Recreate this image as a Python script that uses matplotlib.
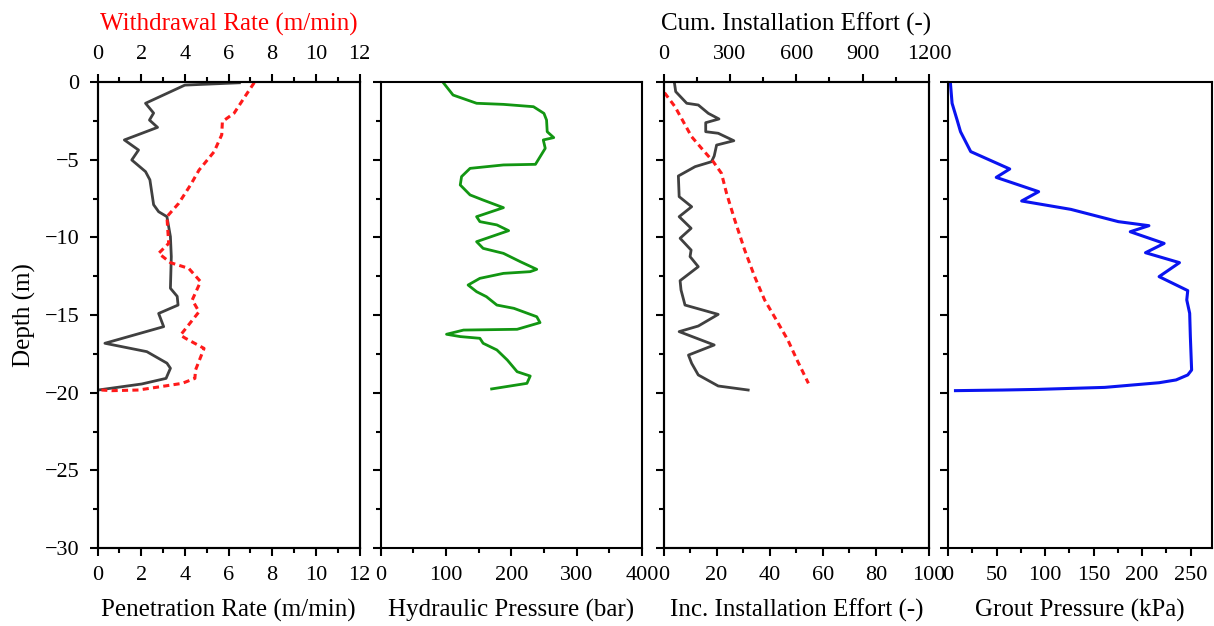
import numpy as np
import matplotlib
matplotlib.use("Agg")
import matplotlib.pyplot as plt
from matplotlib.ticker import MultipleLocator

plt.rcParams['font.family'] = ['Liberation Serif', 'DejaVu Serif']
plt.rcParams['font.size'] = 16
plt.rcParams['axes.labelsize'] = 18
plt.rcParams['axes.linewidth'] = 1.5

# penetration rate (m/min) vs depth (m)
pen_rate = [6.5, 4.0, 2.2, 2.57, 2.38, 2.75, 1.23, 1.88, 1.57, 2.2, 2.4, 2.57, 2.8, 3.18,
            3.34, 3.38, 3.34, 3.65, 3.69, 2.8, 3.03, 0.34, 2.26, 3.18, 3.34, 3.14, 2.03, 0.03]
pen_depth = [-0.05, -0.2, -1.37, -2.0, -2.45, -2.92, -3.73, -4.38, -5.02, -5.77, -6.3, -7.9, -8.35, -8.67,
             -9.96, -11.24, -13.28, -13.8, -14.36, -14.9, -15.75, -16.82, -17.36, -18.1, -18.43, -19.08, -19.44, -19.83]

# withdrawal rate (m/min) vs depth (m)
wd_rate = [7.18, 6.8, 6.26, 5.72, 5.69, 5.34, 4.65, 4.26, 3.72, 3.18, 3.26, 2.8, 3.34, 4.18,
           4.72, 4.34, 4.65, 3.8, 4.03, 4.88, 4.49, 4.46, 3.88, 1.88, 0.65, 0.18]
wd_depth = [-0.04, -0.84, -2.0, -2.55, -3.4, -4.49, -5.67, -6.63, -7.81, -8.67, -10.39, -11.03, -11.63, -12.0,
            -12.85, -14.03, -14.79, -16.3, -16.5, -17.15, -18.54, -19.08, -19.4, -19.83, -19.87, -19.83]

# hydraulic pressure (bar) vs depth (m)
hyd_p = [96, 111, 147, 188, 234, 250, 254, 255, 265, 249, 252, 237, 188, 137, 124, 122, 137, 157,
         188, 147, 152, 178, 196, 147, 157, 188, 214, 239, 229, 188, 152, 134, 147, 162, 178, 204,
         239, 244, 209, 127, 101, 122, 152, 157, 178, 194, 209, 229, 224, 170]
hyd_depth = [-0.04, -0.84, -1.37, -1.44, -1.59, -2.02, -2.45, -3.2, -3.58, -3.73, -4.27, -5.3, -5.34,
             -5.56, -6.09, -6.63, -7.27, -7.6, -8.09, -8.67, -8.99, -9.2, -9.57, -10.28, -10.71, -11.03,
             -11.57, -12.06, -12.21, -12.32, -12.64, -13.07, -13.5, -13.82, -14.36, -14.57, -15.11,
             -15.49, -15.92, -15.97, -16.24, -16.39, -16.5, -16.82, -17.25, -17.9, -18.65, -18.93,
             -19.4, -19.76]

# incremental installation effort (-) vs depth (m)
inc_eff = [4.1, 4.6, 8.75, 13.1, 16.9, 20.9, 15.9, 15.9, 20.6, 26.5, 20.0, 19.1, 18.1, 11.9, 5.6,
           5.9, 10.6, 5.9, 10.4, 6.25, 10.4, 10.0, 13.1, 6.25, 6.6, 8.1, 20.6, 13.1, 5.9, 19.1, 9.4,
           10.6, 13.1, 20.6, 31.9]
inc_depth = [-0.04, -0.62, -1.37, -1.48, -2.02, -2.38, -2.62, -3.2, -3.3, -3.78, -4.06, -4.76, -5.13,
             -5.45, -6.05, -7.38, -8.03, -8.67, -9.42, -10.06, -10.82, -11.24, -11.89, -12.79, -13.39,
             -14.36, -14.96, -15.71, -16.07, -16.93, -17.58, -18.11, -18.86, -19.57, -19.83]

# cumulative installation effort (-) vs depth (m)
cum_eff = [4.5, 52, 127, 172, 225, 262, 285, 322, 367, 412, 457, 510, 562, 607, 655]
cum_depth = [-0.69, -1.59, -3.52, -4.27, -5.13, -5.88, -7.17, -8.88, -10.82, -12.53, -14.03,
             -15.32, -16.61, -18.0, -19.4]

# grout pressure (kPa) vs depth (m)
grout_p = [2.4, 4.2, 9.4, 12.9, 23.4, 63.6, 49.7, 93.4, 75.9, 126.6, 175.5, 207, 187.8, 222.7,
           203.5, 238.5, 217.5, 247, 246, 249, 249.7, 251, 247, 235, 217.5, 161.5, 91.6, 56.6, 7.7]
grout_depth = [0, -1.37, -2.45, -3.2, -4.48, -5.6, -6.14, -7.06, -7.66, -8.2, -8.99, -9.25, -9.64,
               -10.39, -10.99, -11.63, -12.53, -13.43, -14.03, -14.89, -16.39, -18.54, -18.86,
               -19.18, -19.36, -19.66, -19.79, -19.83, -19.87]

W, H = 1214, 626
fig = plt.figure(figsize=(W / 100, H / 100), dpi=100)

def add_panel(x0, x1, y0=82, y1=548):
    return fig.add_axes([x0 / W, (H - y1) / H, (x1 - x0) / W, (y1 - y0) / H])

def style(ax, labels_left=False):
    ax.set_ylim(-30, 0)
    ax.yaxis.set_major_locator(MultipleLocator(5))
    ax.yaxis.set_minor_locator(MultipleLocator(2.5))
    ax.tick_params(axis='both', which='major', direction='out', length=6, width=1.5, pad=7)
    ax.tick_params(axis='both', which='minor', direction='out', length=3.5, width=1.5)
    ax.tick_params(axis='y', which='both', labelleft=labels_left)
    ax.tick_params(axis='x', which='both', top=False)

def style_top(ax):
    ax.tick_params(which='major', direction='out', length=6, width=1.5, pad=7)
    ax.tick_params(which='minor', direction='out', length=3.5, width=1.5)

grey = '#404040'
red = '#ff1a1a'
dash = (0, (2.0, 1.4))

# panel 1: penetration / withdrawal rate
ax1 = add_panel(97.5, 359.5)
style(ax1, labels_left=True)
ax1.plot(pen_rate, pen_depth, color=grey, lw=2.0)
ax1.set_xlim(0, 12)
ax1.xaxis.set_major_locator(MultipleLocator(2))
ax1.xaxis.set_minor_locator(MultipleLocator(1))
ax1.set_xlabel('Penetration Rate (m/min)', labelpad=10)
ax1.set_ylabel('Depth (m)', labelpad=6)
ax1t = ax1.twiny()
ax1t.plot(wd_rate, wd_depth, color=red, lw=2.2, ls=dash)
ax1t.set_xlim(0, 12)
ax1t.xaxis.set_major_locator(MultipleLocator(2))
ax1t.xaxis.set_minor_locator(MultipleLocator(1))
style_top(ax1t)
ax1t.set_xlabel('Withdrawal Rate (m/min)', color='red', labelpad=10)

# panel 2: hydraulic pressure
ax2 = add_panel(380.5, 642)
style(ax2)
ax2.plot(hyd_p, hyd_depth, color='#129612', lw=2.0)
ax2.set_xlim(0, 400)
ax2.xaxis.set_major_locator(MultipleLocator(100))
ax2.xaxis.set_minor_locator(MultipleLocator(50))
ax2.set_xlabel('Hydraulic Pressure (bar)', labelpad=10)

# panel 3: incremental / cumulative installation effort
ax3 = add_panel(663.5, 929)
style(ax3)
ax3.plot(inc_eff, inc_depth, color=grey, lw=2.0)
ax3.set_xlim(0, 100)
ax3.xaxis.set_major_locator(MultipleLocator(20))
ax3.xaxis.set_minor_locator(MultipleLocator(10))
ax3.set_xlabel('Inc. Installation Effort (-)', labelpad=10)
ax3t = ax3.twiny()
ax3t.plot(cum_eff, cum_depth, color=red, lw=2.2, ls=dash)
ax3t.set_xlim(0, 1200)
ax3t.xaxis.set_major_locator(MultipleLocator(300))
ax3t.xaxis.set_minor_locator(MultipleLocator(150))
style_top(ax3t)
ax3t.set_xlabel('Cum. Installation Effort (-)', labelpad=10)

# panel 4: grout pressure
ax4 = add_panel(948, 1212)
style(ax4)
ax4.plot(grout_p, grout_depth, color='#0a14f0', lw=2.2)
ax4.set_xlim(0, 272)
ax4.xaxis.set_major_locator(MultipleLocator(50))
ax4.xaxis.set_minor_locator(MultipleLocator(25))
ax4.set_xlabel('Grout Pressure (kPa)', labelpad=10)

fig.savefig('out.png', dpi=100)
